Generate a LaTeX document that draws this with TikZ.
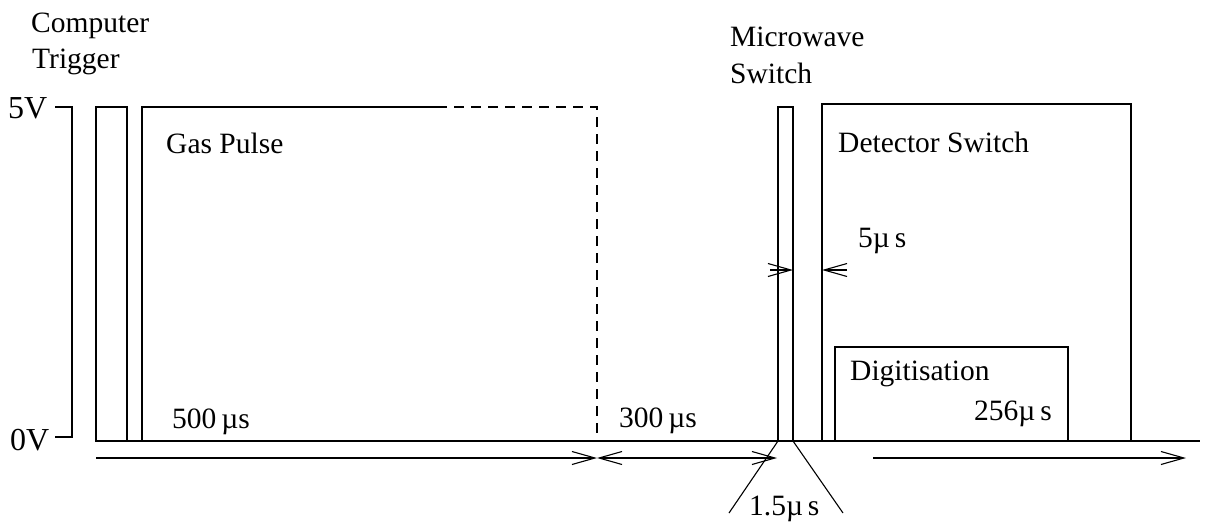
\documentclass[tikz,border=0pt]{standalone}
\usepackage{fontspec}
\setmainfont{Liberation Serif}
\usetikzlibrary{arrows.meta}
\tikzset{
  lbl/.style={inner sep=0pt, anchor=base west, font=\fontsize{29.5}{37}\selectfont},
  vlbl/.style={lbl, font=\fontsize{32}{38}\selectfont},
  wire/.style={line width=1.1pt, line join=miter},
  tip/.tip={Straight Barb[length=23pt,width=13pt,line width=1.1pt]},
  dsh/.style={wire, dash pattern=on 10pt off 7pt}
}
\begin{document}
\begin{tikzpicture}[x=1pt,y=-1pt]
\useasboundingbox (0,0) rectangle (1205,522);

% labels
\node[lbl] (cmp) at (31,32) {Computer};
\node[lbl] (trg) at (32,68) {Trigger};
\node[lbl] (mw) at (730,46) {Microwave};
\node[lbl] (sw) at (730,83) {Switch};
\node[vlbl] (fiveV) at (8,118) {5V};
\node[vlbl] (zeroV) at (10,450) {0V};
\node[lbl] (gas) at (166,153) {Gas Pulse};
\node[lbl] (det) at (838,152) {Detector Switch};
\node[lbl] (dig) at (850,380) {Digitisation};
\node[lbl] (t256) at (974,420) {256µ\,s};
\node[lbl] (t500) at (172,428) {500\,µs};
\node[lbl] (t300) at (619,427) {300\,µs};
\node[lbl] (t5) at (858,247) {5µ\,s};
\node[lbl] (t15) at (749,515) {1.5µ\,s};

% voltage scale
\draw[wire] (55,107) -- (72,107) -- (72,437) -- (55,437);

% baseline
\draw[wire] (96,441) -- (1200,441);

% computer trigger pulse
\draw[wire] (96,441) rectangle (127,107);

% gas pulse
\draw[wire] (142,441) -- (142,107) -- (437,107);
\draw[dsh] (437,107) -- (597,107) -- (597,441);

% microwave switch pulse
\draw[wire] (778,441) rectangle (793,107);

% detector switch
\draw[wire] (822,441) -- (822,104) -- (1131,104) -- (1131,441);

% digitisation
\draw[wire] (835,441) -- (835,347) -- (1068,347) -- (1068,441);

% 5 us arrows
\coordinate (m1) at (770,270);
\coordinate (m2) at (793,270);
\coordinate (m3) at (847,270);
\coordinate (m4) at (822,270);
\draw[wire,-{tip}] (m1) -- (m2);
\draw[wire,-{tip}] (m3) -- (m4);

% time arrows
\coordinate (a0) at (96,458);
\coordinate (a1) at (597,458);
\coordinate (a2) at (777,458);
\coordinate (a3) at (873,458);
\coordinate (a4) at (1186,458);
\draw[wire,-{tip}] (a0) -- (a1);
\draw[wire,{tip}-{tip}] (a1) -- (a2);
\draw[wire,-{tip}] (a3) -- (a4);

% 1.5 us flare
\coordinate (f1) at (778,441);
\coordinate (f2) at (729,513);
\coordinate (f3) at (793,441);
\coordinate (f4) at (843,513);
\draw[wire] (f1) -- (f2);
\draw[wire] (f3) -- (f4);
\end{tikzpicture}
\end{document}
